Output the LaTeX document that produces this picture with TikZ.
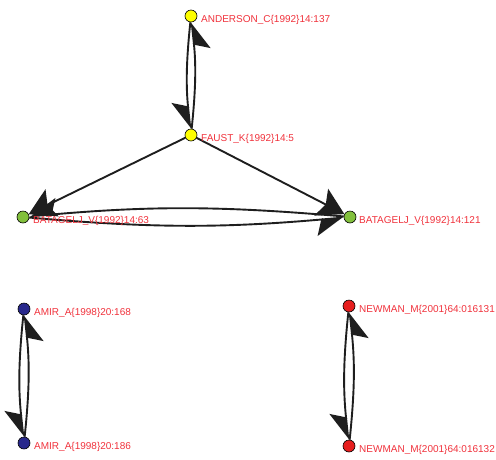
\documentclass[tikz,border=0pt]{standalone}
\usepackage{fontspec}
\setmainfont{Liberation Sans}
\usetikzlibrary{arrows.meta}
\definecolor{lbl}{RGB}{240,50,60}
\definecolor{cyel}{RGB}{255,255,0}
\definecolor{cgrn}{RGB}{130,192,60}
\definecolor{cblu}{RGB}{40,40,140}
\definecolor{cred}{RGB}{230,30,30}
\definecolor{edgec}{RGB}{30,30,30}
\tikzset{
  vtx/.style={circle, draw=black, line width=0.6pt, minimum size=12pt, inner sep=0pt},
  lab/.style={text=lbl, font=\fontsize{10}{12}\selectfont, anchor=base west, inner sep=0pt},
  half/.style={draw=edgec, line width=1.9pt, bend right=6,
    -{Stealth[harpoon,swap,length=26pt,width=32pt,inset=5pt]}},
  full/.style={draw=edgec, line width=1.9pt,
    -{Stealth[length=26pt,width=30pt,inset=5pt]}}
}
\begin{document}
\begin{tikzpicture}[x=1pt,y=-1pt]
\useasboundingbox (0,0) rectangle (496,459);
% nodes
\node[vtx, fill=cyel] (and) at (191,16) {};
\node[vtx, fill=cyel] (fau) at (191,135) {};
\node[vtx, fill=cgrn] (b63) at (23,217) {};
\node[vtx, fill=cgrn] (b121) at (350,217) {};
\node[vtx, fill=cblu] (a168) at (24,309) {};
\node[vtx, fill=cblu] (a186) at (24,443) {};
\node[vtx, fill=cred] (n131) at (349,306) {};
\node[vtx, fill=cred] (n132) at (349,446) {};
% edges
\draw[half] (and) to (fau);
\draw[half] (fau) to (and);
\draw[full] (fau) -- (b63);
\draw[full] (fau) -- (b121);
\draw[half, bend right=5] (b63) to (b121);
\draw[half, bend right=5] (b121) to (b63);
\draw[half] (a168) to (a186);
\draw[half] (a186) to (a168);
\draw[half] (n131) to (n132);
\draw[half] (n132) to (n131);
% labels
\node[lab] (land) at (201,22) {ANDERSON\_C\{1992\}14:137};
\node[lab] (lfau) at (201,141) {FAUST\_K\{1992\}14:5};
\node[lab] (lb63) at (33,223) {BATAGELJ\_V\{1992\}14:63};
\node[lab] (lb121) at (359,223) {BATAGELJ\_V\{1992\}14:121};
\node[lab] (la168) at (34,315) {AMIR\_A\{1998\}20:168};
\node[lab] (la186) at (34,449) {AMIR\_A\{1998\}20:186};
\node[lab] (ln131) at (359,312) {NEWMAN\_M\{2001\}64:016131};
\node[lab] (ln132) at (359,452) {NEWMAN\_M\{2001\}64:016132};
\end{tikzpicture}
\end{document}
